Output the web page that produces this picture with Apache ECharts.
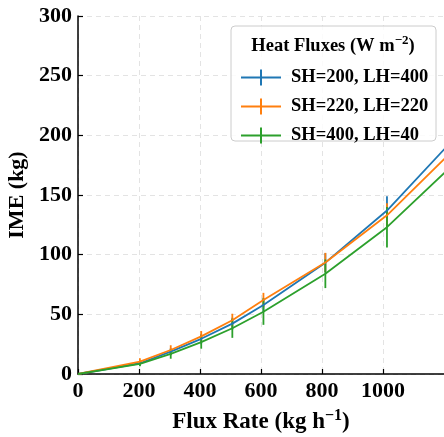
<!DOCTYPE html>
<html><head><meta charset="utf-8">
<script src="https://cdn.jsdelivr.net/npm/echarts@6/dist/echarts.min.js"></script>
<style>html,body{margin:0;padding:0;background:#fff}#c{width:444px;height:437px}</style>
</head><body><div id="c"></div>
<script>
// Data
var fluxRate = [0, 203, 304, 404, 506, 608, 811, 1013, 1216];
var seriesNames = ['SH=200, LH=400', 'SH=220, LH=220', 'SH=400, LH=40'];
var imeBlue   = [0, 9.0, 18.7, 29.5, 42.2, 57.8, 93.3, 137.0, 192.5];
var imeOrange = [0, 10.3, 20.1, 31.5, 45.0, 62.0, 93.5, 133.0, 184.0];
var imeGreen  = [0, 8.4, 16.8, 26.7, 38.3, 52.2, 84.0, 123.0, 172.0];
var errBlue   = [0, 2, 3, 4, 5, 6, 8, 12];
var errOrange = [0, 3, 4, 4.5, 5.5, 6, 8, 10];
var errGreen  = [0, 2, 4, 5.5, 8, 11, 12, 17];
var xTicks = [0, 200, 400, 600, 800, 1000];
var yTicks = [0, 50, 100, 150, 200, 250, 300];

var colors = ['#1f77b4', '#ff7f0e', '#2ca02c'];
var FONT = '"Liberation Serif", "Times New Roman", serif';

function pairs(ys) { return fluxRate.map(function (x, i) { return [x, ys[i]]; }); }
function errData(ys, es) {
  return es.map(function (e, i) { return [fluxRate[i], ys[i] - e, ys[i] + e]; });
}
function errSeries(name, ys, es, color, z) {
  return {
    type: 'custom', name: name, z: z, silent: true,
    data: errData(ys, es),
    renderItem: function (params, api) {
      var p1 = api.coord([api.value(0), api.value(1)]);
      var p2 = api.coord([api.value(0), api.value(2)]);
      return { type: 'line', shape: { x1: p1[0], y1: p1[1], x2: p2[0], y2: p2[1] },
               style: { stroke: color, lineWidth: 1.8 } };
    }
  };
}
function lineSeries(name, ys, color, z) {
  return { type: 'line', name: name, data: pairs(ys), z: z, showSymbol: false, symbol: 'none',
    lineStyle: { color: color, width: 1.8 }, itemStyle: { color: color }, clip: true, animation: false };
}
var icon = 'path://M0,7 L40,7 L40,9 L0,9 Z M19,0 L21,0 L21,16 L19,16 Z';

function supRich(size, supSize, pad) {
  return {
    n: { fontFamily: FONT, fontWeight: 'bold', fontSize: size, color: '#000', verticalAlign: 'bottom' },
    sup: { fontFamily: FONT, fontWeight: 'bold', fontSize: supSize, color: '#000', verticalAlign: 'top',
           padding: [0, 0, pad, 0] }
  };
}

var chart = echarts.init(document.getElementById('c'), null, { renderer: 'canvas' });
chart.setOption({
  animation: false,
  textStyle: { fontFamily: FONT },
  grid: { left: 78, right: 0, top: 16, bottom: 63, containLabel: false, outerBoundsMode: 'none' },
  xAxis: {
    type: 'value', min: 0, max: 1200, interval: 200,
    name: '{n|Flux Rate (kg h}{sup|\u22121}{n|)}', nameLocation: 'middle', nameGap: 34,
    nameTextStyle: { fontFamily: FONT, fontWeight: 'bold', fontSize: 23, color: '#000',
      rich: supRich(23, 16, 10) },
    axisLine: { lineStyle: { color: '#000', width: 1.5 } },
    axisTick: { inside: true, length: 5, lineStyle: { color: '#000', width: 1.2 } },
    axisLabel: { fontFamily: FONT, fontWeight: 'bold', fontSize: 22, color: '#000', margin: 6,
      showMaxLabel: false,
      formatter: function (v) { return xTicks.indexOf(v) >= 0 ? String(v) : ''; } },
    splitLine: { show: true, lineStyle: { color: '#e3e3e3', type: [5, 4], width: 1 } }
  },
  yAxis: {
    type: 'value', min: 0, max: 300, interval: 50,
    name: 'IME (kg)', nameLocation: 'middle', nameGap: 48,
    nameTextStyle: { fontFamily: FONT, fontWeight: 'bold', fontSize: 22, color: '#000' },
    axisLine: { show: true, lineStyle: { color: '#000', width: 1.5 } },
    axisTick: { show: true, inside: true, length: 5, lineStyle: { color: '#000', width: 1.2 } },
    axisLabel: { fontFamily: FONT, fontWeight: 'bold', fontSize: 22, color: '#000', margin: 6,
      formatter: function (v) { return yTicks.indexOf(v) >= 0 ? String(v) : ''; } },
    splitLine: { show: true, lineStyle: { color: '#e3e3e3', type: [5, 4], width: 1 } }
  },
  legend: {
    orient: 'vertical', left: 236, top: 63, itemWidth: 40, itemHeight: 16, itemGap: 10,
    z: 6,
    data: seriesNames.map(function (n) { return { name: n, icon: icon }; }),
    textStyle: { fontFamily: FONT, fontWeight: 'bold', fontSize: 18.5, color: '#000', padding: [0, 0, 0, 5] },
    selectedMode: false
  },
  graphic: [
    { type: 'rect', z: 4, shape: { x: 231, y: 26, width: 205, height: 115, r: 4 },
      style: { fill: 'rgba(255,255,255,0.85)', stroke: '#cccccc', lineWidth: 1 } },
    { type: 'text', z: 5, x: 333, y: 45,
      style: { text: '{n|Heat Fluxes (W m}{sup|\u22122}{n|)}', fontFamily: FONT, fontWeight: 'bold', fontSize: 18.5,
               fill: '#000', align: 'center', verticalAlign: 'middle', rich: supRich(18.5, 13, 8) } }
  ],
  series: [
    lineSeries(seriesNames[0], imeBlue, colors[0], 2),
    errSeries('errBlue', imeBlue, errBlue, colors[0], 2),
    lineSeries(seriesNames[1], imeOrange, colors[1], 2),
    errSeries('errOrange', imeOrange, errOrange, colors[1], 2),
    lineSeries(seriesNames[2], imeGreen, colors[2], 2),
    errSeries('errGreen', imeGreen, errGreen, colors[2], 2)
  ]
});
</script></body></html>
